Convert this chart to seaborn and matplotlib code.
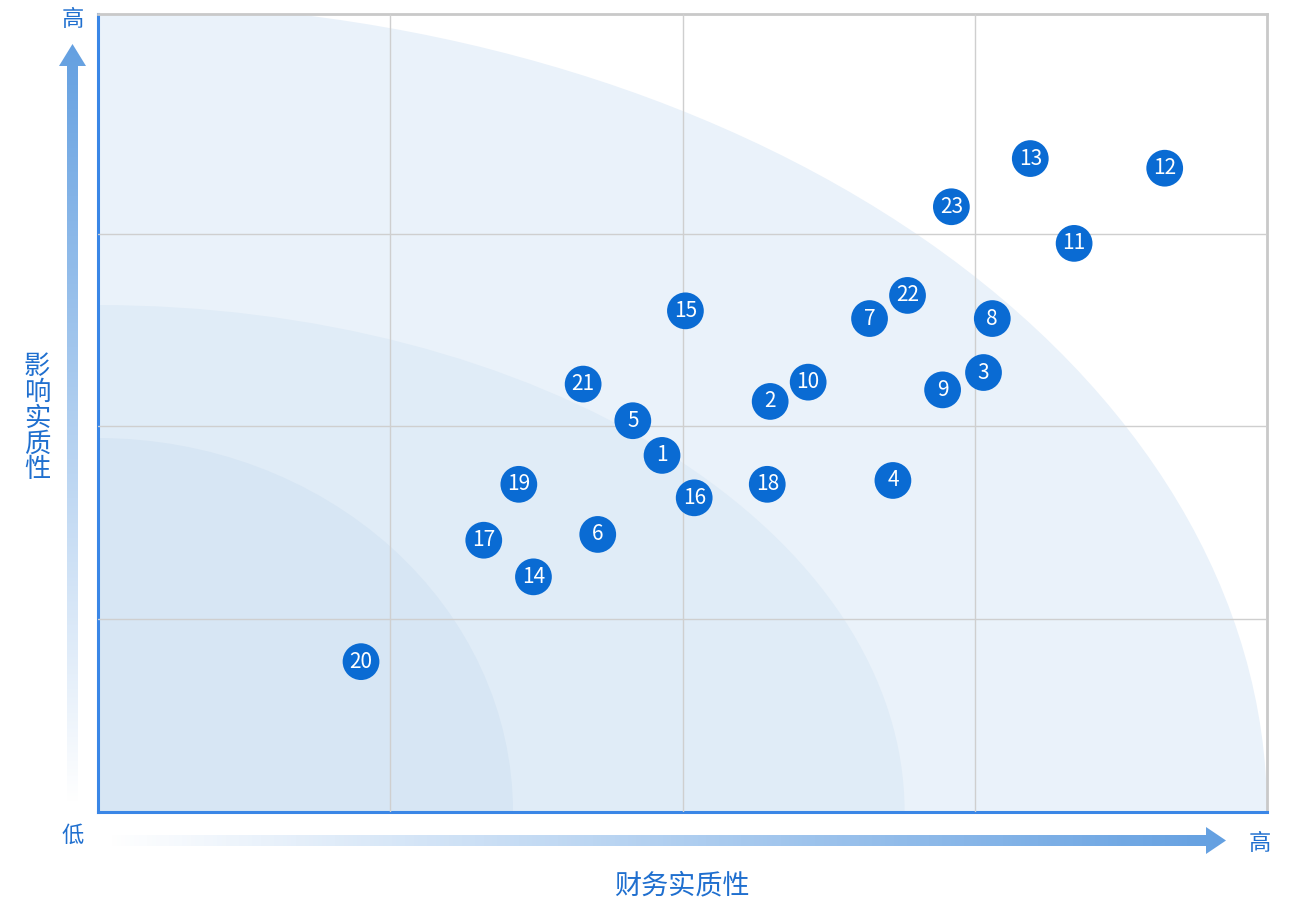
import numpy as np
import seaborn as sns
import matplotlib.pyplot as plt
import pandas as pd
from matplotlib.patches import Ellipse, Polygon

# issue numbers and positions (financial materiality, impact materiality)
ids = [str(i) for i in range(1, 24)]
fin = [1.93, 2.30, 3.03, 2.72, 1.83, 1.71, 2.64, 3.06, 2.89, 2.43, 3.34, 3.65,
       3.19, 1.49, 2.01, 2.04, 1.32, 2.29, 1.44, 0.90, 1.66, 2.77, 2.92]
imp = [1.85, 2.13, 2.28, 1.72, 2.03, 1.44, 2.56, 2.56, 2.19, 2.23, 2.95, 3.34,
       3.39, 1.22, 2.60, 1.63, 1.41, 1.70, 1.70, 0.78, 2.22, 2.68, 3.14]

# quarter-ring radii (x, y) from outer to inner
ring_x = [4.0, 2.76, 1.42]
ring_y = [4.2, 2.63, 1.94]
ring_col = ['#eaf2fa', '#e0ecf7', '#d7e6f4']

x_label = '财务实质性'
y_label = '影响实质性'
low_txt = '低'
high_txt = '高'

df = pd.DataFrame({'id': ids, 'fin': fin, 'imp': imp})

sns.set_style('white')
plt.rcParams['font.family'] = ['Noto Sans CJK SC', 'DejaVu Sans']

W, H = 1305, 906
fig = plt.figure(figsize=(W / 100, H / 100), dpi=100)
ax = fig.add_axes([98 / W, 1 - 812 / H, (1267 - 98) / W, (812 - 14) / H])

for rx, ry, c in zip(ring_x, ring_y, ring_col):
    ax.add_patch(Ellipse((0, 0), 2 * rx, 2 * ry, facecolor=c, edgecolor='none', zorder=0))

sns.scatterplot(data=df, x='fin', y='imp', s=700, color='#0a6bd3', edgecolor='none',
                ax=ax, zorder=3, legend=False)
for _, r in df.iterrows():
    ax.text(r['fin'], r['imp'], r['id'], ha='center', va='center', color='white',
            fontsize=15, zorder=4)

ax.set_xlim(0, 4)
ax.set_ylim(0, 4.14)
ax.set_xticks([1, 2, 3])
ax.set_yticks([1, 2, 3])
ax.tick_params(length=0, labelbottom=False, labelleft=False)
ax.grid(True, color='#cfcfcf', lw=1)
ax.set_axisbelow(False)
for gl in ax.get_xgridlines() + ax.get_ygridlines():
    gl.set_zorder(1)
ax.set_xlabel('')
ax.set_ylabel('')
for s in ['left', 'bottom']:
    ax.spines[s].set_color('#3a86e6')
    ax.spines[s].set_linewidth(2.2)
for s in ['top', 'right']:
    ax.spines[s].set_color('#c9c9c9')
    ax.spines[s].set_linewidth(2)

# overlay in pixel coordinates for the gradient arrows
ov = fig.add_axes([0, 0, 1, 1], facecolor='none')
ov.set_xlim(0, W)
ov.set_ylim(H, 0)
ov.axis('off')

blue = np.array([100, 160, 225]) / 255
white = np.array([1.0, 1.0, 1.0])

# vertical arrow: blue at top, fading to white at bottom
t = np.linspace(0, 1, 256)[:, None]
grad_v = (blue * (1 - t[..., None]) + white * t[..., None])
grad_v = np.repeat(grad_v, 2, axis=1)
im = ov.imshow(grad_v, extent=[58, 88, 802, 44], aspect='auto', zorder=2)
varrow = Polygon([[67, 802], [67, 66], [59, 66], [72.5, 44], [86, 66], [78, 66], [78, 802]],
                 closed=True, transform=ov.transData, facecolor='none', edgecolor='none')
ov.add_patch(varrow)
im.set_clip_path(varrow)

# horizontal arrow: white at left, blue at right
grad_h = (white * (1 - t[..., None]) + blue * t[..., None]).transpose(1, 0, 2)
grad_h = np.repeat(grad_h, 2, axis=0)
im2 = ov.imshow(grad_h, extent=[108, 1226, 854, 826], aspect='auto', zorder=2)
harrow = Polygon([[108, 835], [1206, 835], [1206, 827], [1226, 840.5], [1206, 854],
                  [1206, 846], [108, 846]],
                 closed=True, transform=ov.transData, facecolor='none', edgecolor='none')
ov.add_patch(harrow)
im2.set_clip_path(harrow)

txt_col = '#1f6fcf'
fig.text(73 / W, 1 - 19 / H, high_txt, ha='center', va='center', fontsize=16, color=txt_col)
fig.text(73 / W, 1 - 835 / H, low_txt, ha='center', va='center', fontsize=16, color=txt_col)
fig.text(1260 / W, 1 - 843 / H, high_txt, ha='center', va='center', fontsize=16, color=txt_col)
fig.text(682 / W, 1 - 886 / H, x_label, ha='center', va='center', fontsize=19.5, color=txt_col)
fig.text(37 / W, 1 - 418 / H, '\n'.join(y_label), ha='center', va='center', fontsize=19,
         color=txt_col, linespacing=0.95)

fig.savefig('out.png', dpi=100)
